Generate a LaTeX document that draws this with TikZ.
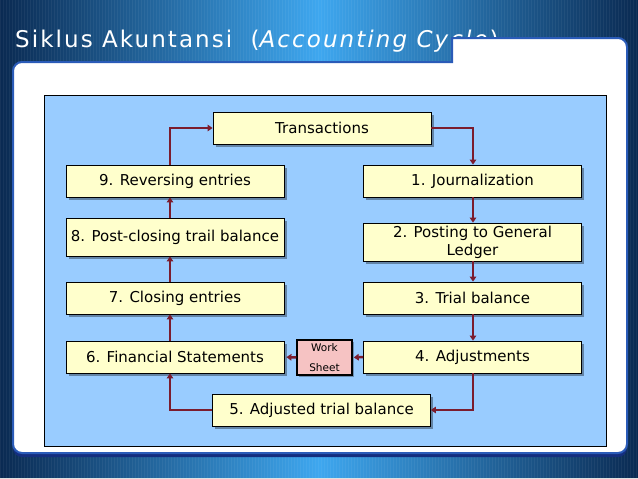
\documentclass[tikz,border=0pt]{standalone}
\usepackage{fontspec}
\setmainfont{DejaVu Sans}
\newfontfamily\titlefont[LetterSpace=9]{DejaVu Sans}
\usetikzlibrary{arrows.meta,shadows}
\definecolor{bgedge}{HTML}{0A2A52}
\definecolor{bgmid}{HTML}{3EA7EF}
\definecolor{panelblue}{HTML}{2A5BB8}
\definecolor{panelnavy}{HTML}{142E7E}
\definecolor{areablue}{HTML}{99CCFF}
\definecolor{boxyellow}{HTML}{FFFFCC}
\definecolor{maroon}{HTML}{7B1C2E}
\definecolor{sheetpink}{HTML}{F6C3C3}
\begin{document}
\begin{tikzpicture}[x=1pt,y=-1pt,
  stepbox/.style={draw=black, line width=0.8pt, fill=boxyellow,
    minimum width=218pt, minimum height=32pt, inner sep=0pt,
    font=\fontsize{15}{18}\selectfont, align=center,
    drop shadow={shadow xshift=2.5pt, shadow yshift=-2.5pt, fill=black, opacity=0.35}},
  sheetbox/.style={draw=black, line width=1.5pt, fill=sheetpink,
    minimum width=55pt, minimum height=35pt, inner sep=0pt,
    font=\fontsize{10.5}{20}\selectfont, align=center,
    drop shadow={shadow xshift=2pt, shadow yshift=-2pt, fill=black, opacity=0.3}},
  conn/.style={draw=maroon, line width=2.5pt, -{Triangle[width=6.5pt,length=5pt]}},
]
\useasboundingbox (0,0) rectangle (638,479);
% background
\shade[left color=bgedge, right color=bgedge, middle color=bgmid] (0,0) rectangle (638,479);
\foreach \i in {0,3,...,636} \draw[white, opacity=0.05, line width=1pt] (\i,0) -- (\i,479);
% title
\node[anchor=base west, text=white, inner sep=0pt,
  font=\titlefont\fontsize{23}{27}\selectfont] (title) at (15,47)
  {Siklus Akuntansi\hspace{0.8em}(\textit{Accounting Cycle})};
% panel
\fill[panelnavy, rounded corners=9pt] (13,66) rectangle (627,457);
\filldraw[fill=white, draw=panelblue, line width=2pt]
  (13,260) [rounded corners=9pt] -- (13,62) [sharp corners] -- (452,62) -- (452,38)
  [rounded corners=9pt] -- (627,38) -- (627,453) -- (13,453) [sharp corners] -- cycle;
% content area
\node[draw=black, line width=1pt, fill=areablue, minimum width=562pt,
  minimum height=351pt, inner sep=0pt] (area) at (325,270.5) {};
% steps
\node[stepbox] (tr) at (322,128) {Transactions};
\node[stepbox] (n9) at (175,181) {9. Reversing entries};
\node[stepbox] (n1) at (472.5,181) {1. Journalization};
\node[stepbox, minimum height=38pt] (n8) at (175,237) {8. Post-closing trail balance};
\node[stepbox, minimum height=38pt] (n2) at (472.5,242) {2. Posting to General\\Ledger};
\node[stepbox] (n7) at (175,298) {7. Closing entries};
\node[stepbox] (n3) at (472.5,298) {3. Trial balance};
\node[stepbox] (n6) at (175,357) {6. Financial Statements};
\node[stepbox] (n4) at (472.5,357) {4. Adjustments};
\node[sheetbox] (ws) at (324.5,357.5) {Work\\Sheet};
\node[stepbox] (n5) at (321.5,410) {5. Adjusted trial balance};
% connectors
\coordinate (lx) at (170,0);
\coordinate (rx) at (473,0);
\draw[conn] (n9.north -| lx) |- (tr.west);
\draw[conn] (tr.east) -| (n1.north -| rx);
\draw[conn] (n1.south -| rx) -- (n2.north -| rx);
\draw[conn] (n2.south -| rx) -- (n3.north -| rx);
\draw[conn] (n3.south -| rx) -- (n4.north -| rx);
\draw[conn] (n4.south -| rx) |- (n5.east);
\draw[conn, shorten >=1pt] (n4.west) -- (ws.east);
\draw[conn, shorten >=2pt] (ws.west) -- (n6.east);
\draw[conn] (n5.west) -| (n6.south -| lx);
\draw[conn] (n6.north -| lx) -- (n7.south -| lx);
\draw[conn] (n7.north -| lx) -- (n8.south -| lx);
\draw[conn] (n8.north -| lx) -- (n9.south -| lx);
\fill[black!12] (0,478) rectangle (638,479);
\end{tikzpicture}
\end{document}
